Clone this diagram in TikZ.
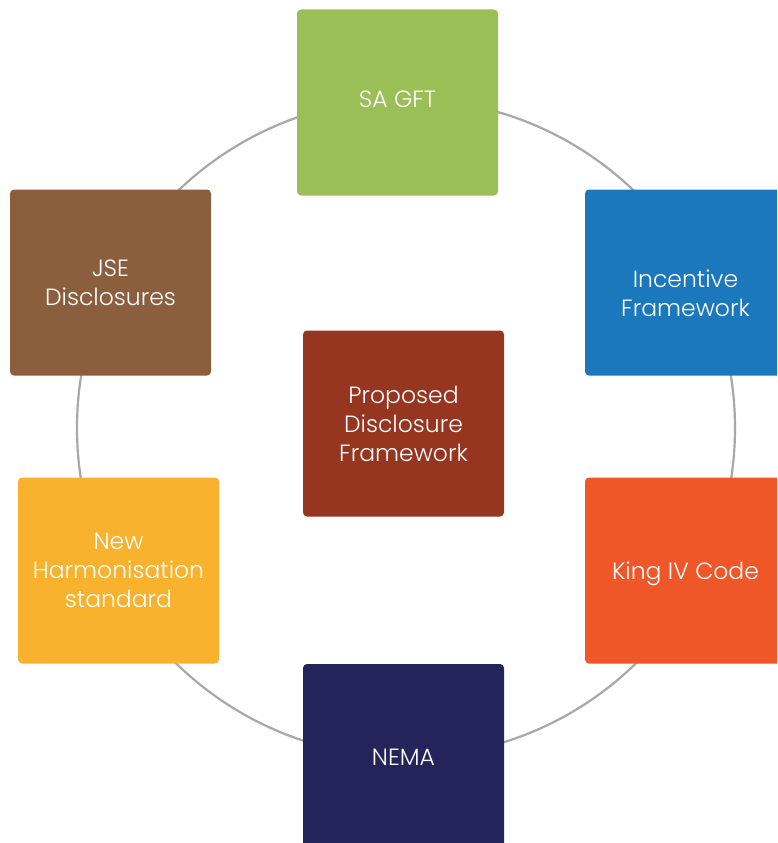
\documentclass[tikz,border=0pt]{standalone}
\usepackage{fontspec}
\setmainfont{Poppins Light}
\usepackage{tikz}

\definecolor{sagreen}{HTML}{9BBF57}
\definecolor{jsebrown}{HTML}{8B5F3D}
\definecolor{incblue}{HTML}{1B78BD}
\definecolor{propred}{HTML}{963520}
\definecolor{harmyellow}{HTML}{F9B22D}
\definecolor{kingorange}{HTML}{EF5729}
\definecolor{nemanavy}{HTML}{22245A}
\definecolor{ringgray}{HTML}{A8A8A8}

\begin{document}
\begin{tikzpicture}[x=1pt,y=-1pt,
  box/.style={rectangle, rounded corners=4pt, minimum width=201pt,
    minimum height=186pt, inner sep=0pt, text=white, align=center,
    font=\fontsize{23.5}{29}\selectfont}]
  \useasboundingbox (0,0) rectangle (777,843);
  \clip (0,0) rectangle (777,843);
  \draw [ringgray, line width=2.2pt] (406,428) circle [radius=329];
  \node [box, fill=sagreen] (sagft) at (397.5,102.5) {SA GFT\rule[-6pt]{0pt}{0pt}};
  \node [box, fill=jsebrown] (jse) at (110.5,282.5) {JSE\\Disclosures};
  \node [box, fill=incblue] (incentive) at (685.5,282.5) {\rule{0pt}{39pt}Incentive\\Framework};
  \node [box, fill=propred] (proposed) at (403.5,423.5) {Proposed\\Disclosure\\Framework};
  \node [box, fill=harmyellow] (harmonisation) at (118.5,570.5) {New\\Harmonisation\\standard};
  \node [box, fill=kingorange] (kingiv) at (685.5,570.5) {\rule{0pt}{25pt}King IV Code};
  \node [box, fill=nemanavy] (nema) at (403.5,757) {NEMA};
\end{tikzpicture}
\end{document}
